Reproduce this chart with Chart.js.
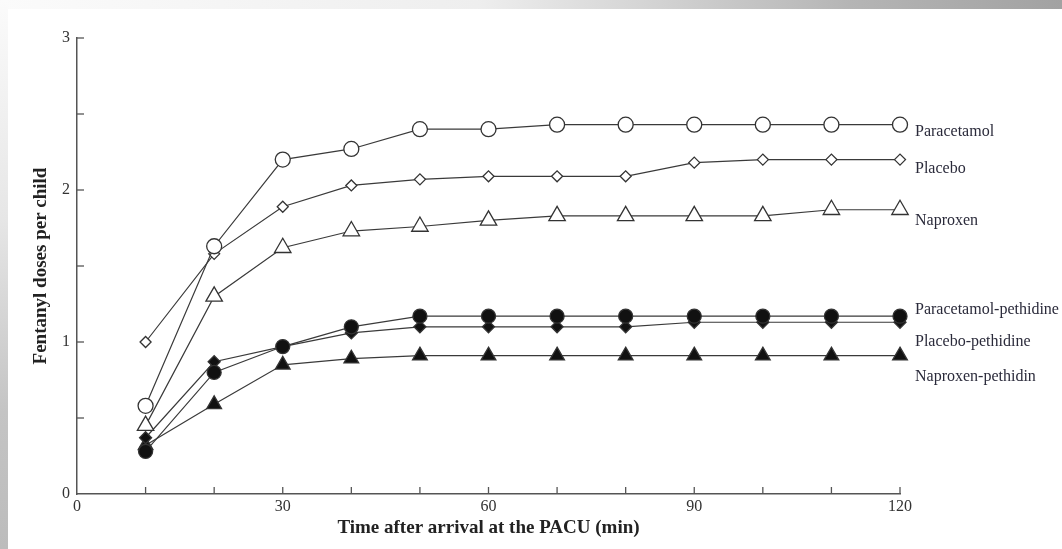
<!DOCTYPE html>
<html>
<head>
<meta charset="utf-8">
<script src="https://cdn.jsdelivr.net/npm/chart.js@4.4.0/dist/chart.umd.min.js"></script>
<style>
  html, body { margin: 0; padding: 0; background: #fff; }
  #wrap { position: relative; width: 1062px; height: 549px; overflow: hidden; }
  #topbar { position: absolute; left: 0; top: 0; width: 1062px; height: 9px;
    background: linear-gradient(to right, #fbfbfb 0%, #eeeeee 45%, #b5b5b5 80%, #a2a2a2 100%); }
  #leftbar { position: absolute; left: 0; top: 0; width: 8px; height: 549px;
    background: linear-gradient(to bottom, #fbfbfb 0%, #e6e6e6 40%, #c4c4c4 75%, #bcbcbc 100%); }
  canvas { position: absolute; left: 0; top: 0; }
</style>
</head>
<body>
<div id="wrap">
  <div id="topbar"></div>
  <div id="leftbar"></div>
  <canvas id="graph" width="1062" height="549"></canvas>
</div>
<script>
const times = [10, 20, 30, 40, 50, 60, 70, 80, 90, 100, 110, 120];
const seriesNames = ['Paracetamol', 'Placebo', 'Naproxen',
  'Paracetamol-pethidine', 'Placebo-pethidine', 'Naproxen-pethidin'];

const paracetamol = [0.58, 1.63, 2.20, 2.27, 2.40, 2.40, 2.43, 2.43, 2.43, 2.43, 2.43, 2.43];
const placebo     = [1.00, 1.58, 1.89, 2.03, 2.07, 2.09, 2.09, 2.09, 2.18, 2.20, 2.20, 2.20];
const naproxen    = [0.45, 1.30, 1.62, 1.73, 1.76, 1.80, 1.83, 1.83, 1.83, 1.83, 1.87, 1.87];
const paracetamolPeth = [0.28, 0.80, 0.97, 1.10, 1.17, 1.17, 1.17, 1.17, 1.17, 1.17, 1.17, 1.17];
const placeboPeth     = [0.37, 0.87, 0.97, 1.06, 1.10, 1.10, 1.10, 1.10, 1.13, 1.13, 1.13, 1.13];
const naproxenPeth    = [0.32, 0.59, 0.85, 0.89, 0.91, 0.91, 0.91, 0.91, 0.91, 0.91, 0.91, 0.91];

const xTickLabels = [0, 30, 60, 90, 120];
const yTickLabels = [0, 1, 2, 3];

// where the right-hand series names sit (in y units)
const nameLevels = [2.38, 2.14, 1.80, 1.21, 1.00, 0.77];

const ink = '#3a3a3a';
const serif = 'Liberation Serif, Times New Roman, serif';

function series(values, style, filled, radius) {
  return {
    data: values.map((v, i) => ({ x: times[i], y: v })),
    borderColor: ink,
    borderWidth: 1.2,
    pointStyle: style,
    pointRadius: radius,
    pointBorderColor: '#333',
    pointBorderWidth: 1.3,
    pointBackgroundColor: filled ? '#111' : '#fff',
    fill: false,
    clip: false,
    tension: 0
  };
}

// inward ticks and series names
const extras = {
  id: 'extras',
  afterDraw(chart) {
    const c = chart.ctx, x = chart.scales.x, y = chart.scales.y;
    c.save();
    c.strokeStyle = '#555';
    c.lineWidth = 1.3;
    for (let t = 10; t <= 120; t += 10) {
      const px = x.getPixelForValue(t);
      c.beginPath(); c.moveTo(px, y.bottom); c.lineTo(px, y.bottom - 7); c.stroke();
    }
    for (let v = 0.5; v <= 3; v += 0.5) {
      const py = y.getPixelForValue(v);
      c.beginPath(); c.moveTo(x.left, py); c.lineTo(x.left + 7, py); c.stroke();
    }
    c.fillStyle = '#2a2a3a';
    c.font = '16px ' + serif;
    c.textBaseline = 'middle';
    seriesNames.forEach((n, i) => {
      c.fillText(n, x.right + 15, y.getPixelForValue(nameLevels[i]));
    });
    c.restore();
  }
};

new Chart(document.getElementById('graph'), {
  type: 'line',
  data: {
    datasets: [
      series(paracetamol, 'circle', false, 7.5),
      series(placebo, 'rectRot', false, 5.5),
      series(naproxen, 'triangle', false, 9.5),
      series(paracetamolPeth, 'circle', true, 7),
      series(placeboPeth, 'rectRot', true, 6),
      series(naproxenPeth, 'triangle', true, 8.5)
    ]
  },
  options: {
    responsive: false,
    animation: false,
    layout: { padding: { top: 38, right: 162, left: 0, bottom: 0 } },
    plugins: { legend: { display: false }, tooltip: { enabled: false } },
    scales: {
      x: {
        type: 'linear', min: 0, max: 120,
        afterFit: s => { s.height = 55; },
        afterBuildTicks: s => { s.ticks = xTickLabels.map(v => ({ value: v })); },
        grid: { display: false, drawTicks: false },
        border: { display: true, color: '#555', width: 1.5 },
        ticks: { color: '#333', padding: 3, font: { family: serif, size: 16 }, maxRotation: 0 },
        title: {
          display: true, text: 'Time after arrival at the PACU (min)', color: '#222',
          font: { family: serif, size: 19, weight: 'bold' }, padding: { top: 0, bottom: 10 }
        }
      },
      y: {
        type: 'linear', min: 0, max: 3,
        afterFit: s => { s.width = 77; },
        afterBuildTicks: s => { s.ticks = yTickLabels.map(v => ({ value: v })); },
        grid: { display: false, drawTicks: false },
        border: { display: true, color: '#555', width: 1.5 },
        ticks: { color: '#333', padding: 7, font: { family: serif, size: 16 } },
        title: {
          display: true, text: 'Fentanyl doses per child', color: '#222',
          font: { family: serif, size: 19, weight: 'bold' }, padding: { top: 30, bottom: 0 }
        }
      }
    }
  },
  plugins: [extras]
});
</script>
</body>
</html>
